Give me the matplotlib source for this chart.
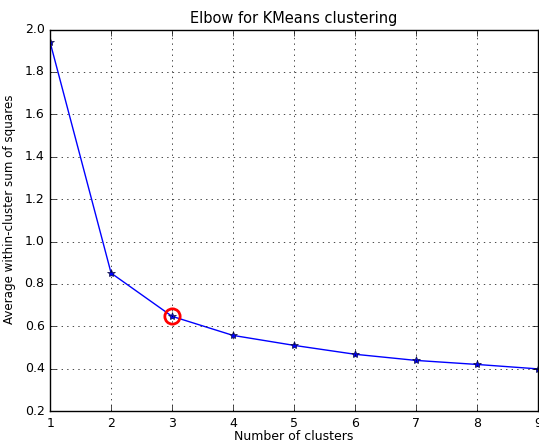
import matplotlib
matplotlib.use("Agg")
import matplotlib.pyplot as plt

# данные: число кластеров и среднее внутрикластерное расстояние
k_values = [1, 2, 3, 4, 5, 6, 7, 8, 9]
avg_within = [1.94, 0.851, 0.647, 0.557, 0.51, 0.468, 0.439, 0.42, 0.399]
elbow_k = 3

plt.style.use('classic')

fig = plt.figure(figsize=(5.39, 4.42), dpi=100, facecolor='white')
ax = fig.add_axes([0.093, 0.07, 0.905, 0.863])

# линия локтя
ax.plot(k_values, avg_within, 'b*-', markersize=6, markeredgecolor='#101040')
# отмечаем выбранное k
idx = k_values.index(elbow_k)
ax.plot(k_values[idx], avg_within[idx], marker='o', markersize=11,
        markeredgewidth=2, markeredgecolor='r', markerfacecolor='None')

ax.set_xlim(1, 9)
ax.set_ylim(0.2, 2.0)
ax.grid(True)
ax.tick_params(labelsize=9)

ax.set_xlabel('Number of clusters', fontsize=9, labelpad=0)
ax.set_ylabel('Average within-cluster sum of squares', fontsize=8.6)
ax.yaxis.set_label_coords(-0.07, 0.53)
ax.set_title('Elbow for KMeans clustering', fontsize=10.5)

fig.savefig('out.png', dpi=100, facecolor='white')
